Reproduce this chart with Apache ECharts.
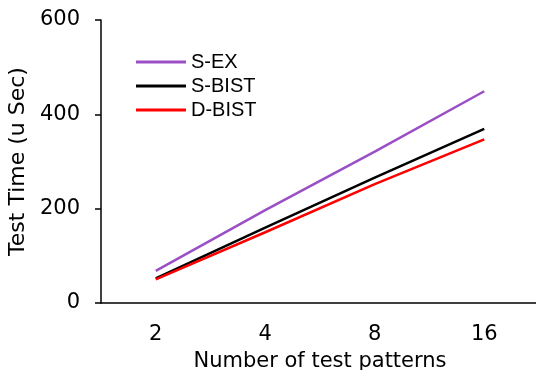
<!DOCTYPE html>
<html>
<head>
<meta charset="utf-8">
<script src="https://cdn.jsdelivr.net/npm/echarts@6/dist/echarts.min.js"></script>
<style>
  html, body { margin: 0; padding: 0; background: #fff; }
  #chart { width: 536px; height: 370px; }
</style>
</head>
<body>
<div id="chart"></div>
<script>
// chart values
const patterns = ['2', '4', '8', '16']
const sEx = [68, 197, 321, 449]
const sBist = [52, 160, 266, 369]
const dBist = [50, 150, 252, 347]
const yTicks = [0, 200, 400, 600]

const chart = echarts.init(document.getElementById('chart'))
const axisFont = 'Verdana, "DejaVu Sans", sans-serif'

const option = {
  animation: false,
  grid: {
    left: 101,
    top: 20,
    right: -3,
    bottom: 67,
    outerBoundsMode: 'none'
  },
  legend: {
    orient: 'vertical',
    left: 136,
    top: 52,
    padding: 0,
    icon: 'rect',
    itemWidth: 50,
    itemHeight: 3,
    itemGap: 4,
    textStyle: {
      fontFamily: '"Liberation Sans", Arial, sans-serif',
      fontSize: 20,
      color: '#000'
    },
    data: ['S-EX', 'S-BIST', 'D-BIST']
  },
  xAxis: {
    type: 'category',
    data: patterns,
    boundaryGap: true,
    name: 'Number of test patterns',
    nameLocation: 'middle',
    nameGap: 48,
    nameTextStyle: { fontFamily: axisFont, fontSize: 21, color: '#000' },
    axisLine: { lineStyle: { color: '#000', width: 1.5 } },
    axisTick: { length: 6, lineStyle: { color: '#000', width: 1.5 } },
    axisLabel: { margin: 21, fontFamily: axisFont, fontSize: 21, color: '#000' },
    splitLine: { show: false }
  },
  yAxis: {
    type: 'value',
    min: yTicks[0],
    max: yTicks[yTicks.length - 1],
    interval: 200,
    name: 'Test Time (u Sec)',
    nameLocation: 'middle',
    nameGap: 70,
    nameTextStyle: { fontFamily: axisFont, fontSize: 22, color: '#000' },
    axisLine: { show: true, lineStyle: { color: '#000', width: 1.5 } },
    axisTick: { show: true, length: 6, lineStyle: { color: '#000', width: 1.5 } },
    axisLabel: { margin: 21, fontFamily: axisFont, fontSize: 21, color: '#000' },
    splitLine: { show: false }
  },
  series: [
    {
      name: 'S-EX',
      type: 'line',
      data: sEx,
      symbol: 'none',
      lineStyle: { color: '#9b4fc6', width: 2.5 },
      itemStyle: { color: '#9b4fc6' }
    },
    {
      name: 'S-BIST',
      type: 'line',
      data: sBist,
      symbol: 'none',
      lineStyle: { color: '#000', width: 2.5 },
      itemStyle: { color: '#000' }
    },
    {
      name: 'D-BIST',
      type: 'line',
      data: dBist,
      symbol: 'none',
      lineStyle: { color: '#ff0000', width: 2.5 },
      itemStyle: { color: '#ff0000' }
    }
  ]
}

chart.setOption(option)
</script>
</body>
</html>
